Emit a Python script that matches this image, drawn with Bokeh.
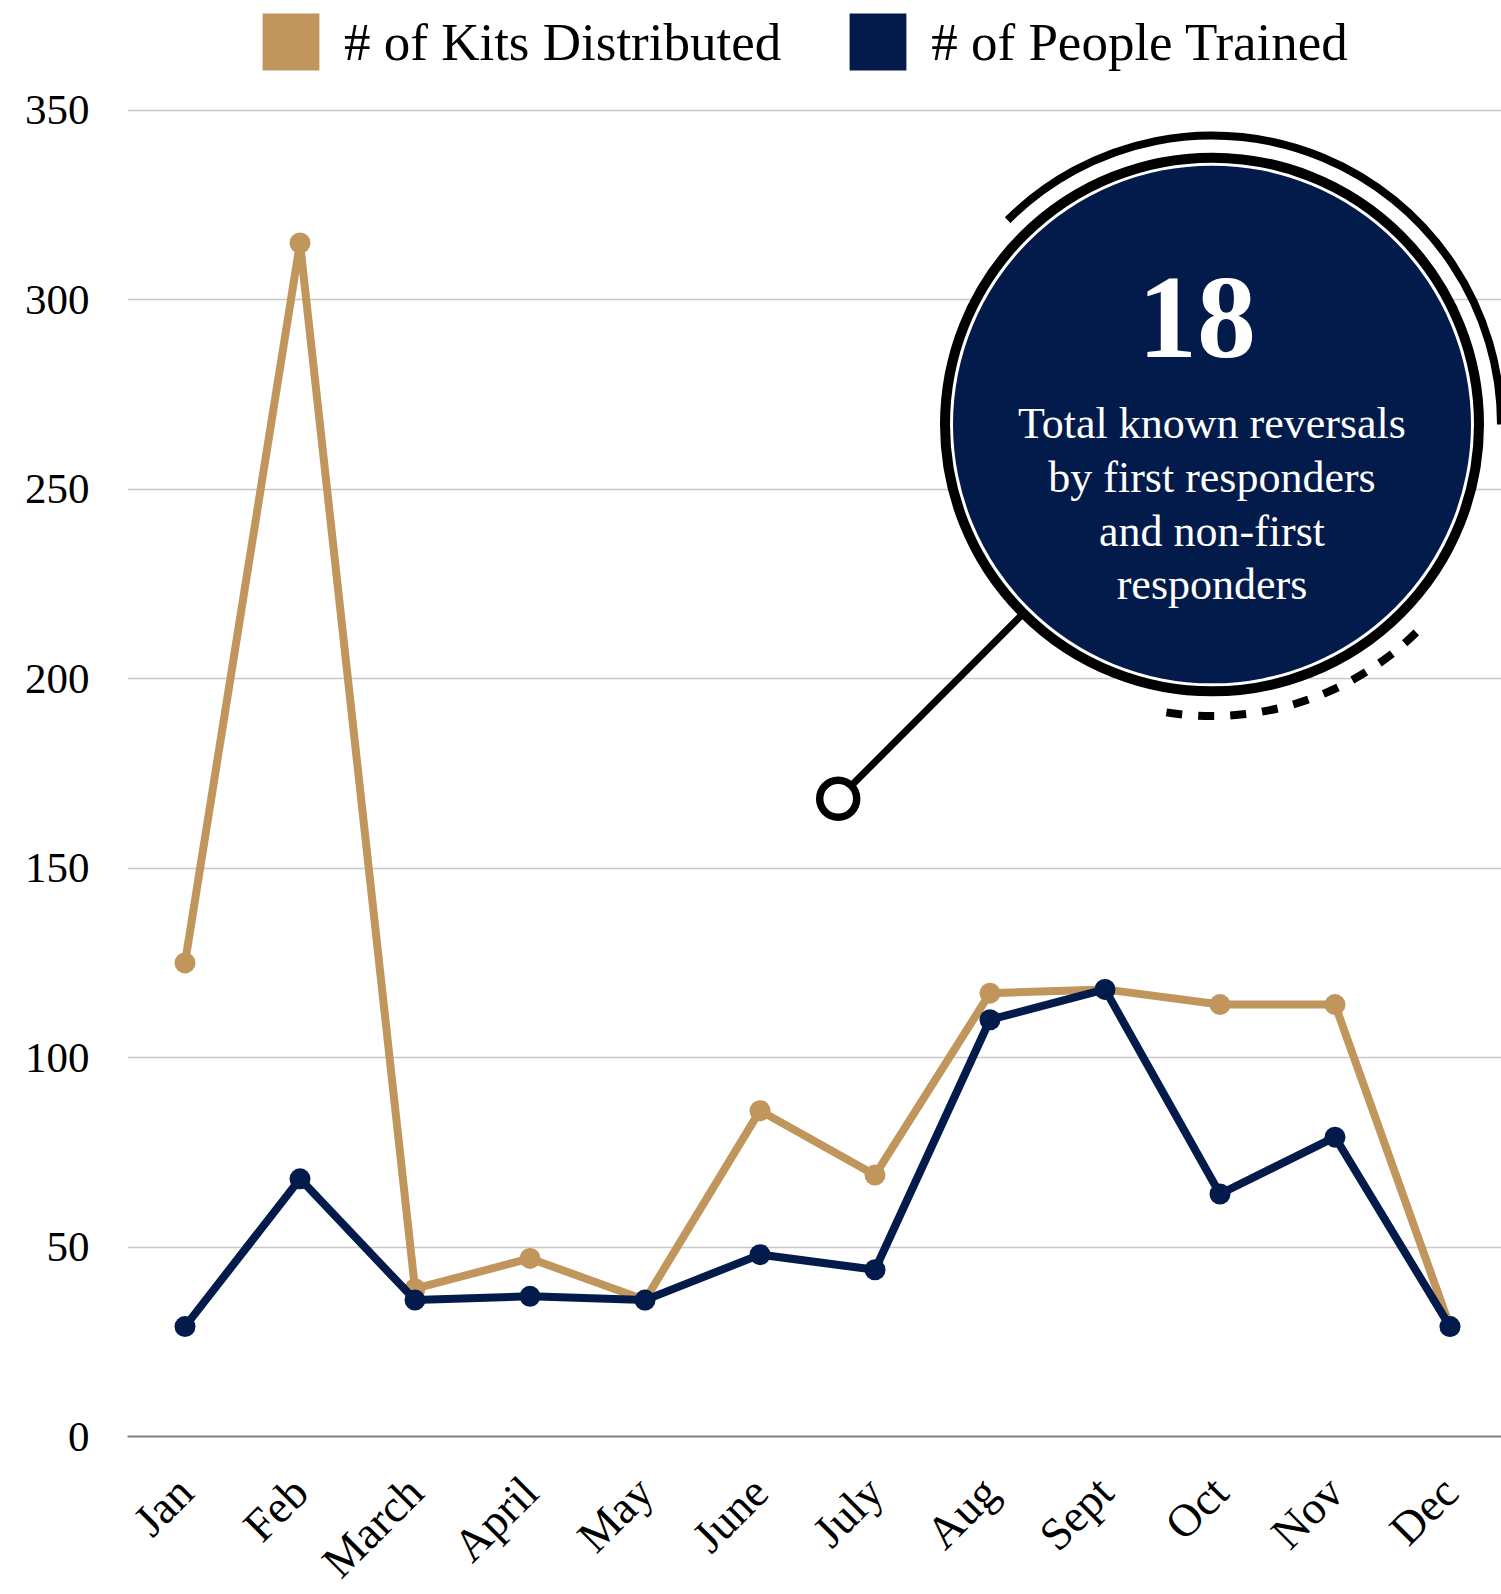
import math
from bokeh.plotting import figure
from bokeh.models import FixedTicker, Legend, LegendItem
from bokeh.core.properties import value
from bokeh.embed import file_html
from bokeh.resources import INLINE

# ---------------- data ----------------
months = ["Jan", "Feb", "March", "April", "May", "June", "July",
          "Aug", "Sept", "Oct", "Nov", "Dec"]
kits_distributed = [125, 315, 39, 47, 36, 86, 69, 117, 118, 114, 114, 29]
people_trained = [29, 68, 36, 37, 36, 48, 44, 110, 118, 64, 79, 29]
y_ticks = [0, 50, 100, 150, 200, 250, 300, 350]
series_names = ["# of Kits Distributed", "# of People Trained"]
callout_number = "18"
callout_lines = ["Total known reversals", "by first responders",
                 "and non-first", "responders"]

GOLD = "#C0965C"
NAVY = "#021B4A"
FONT = "Liberation Serif"

# ---------------- layout ----------------
FRAME_LEFT, FRAME_W, FRAME_H = 127, 1374, 1436
PX_PER_X = 115.0
PX_PER_Y = 3.789
X_END = FRAME_W / PX_PER_X
Y_END = FRAME_H / PX_PER_Y


def sx(px):
    return (px - FRAME_LEFT) / PX_PER_X


def sy(py):
    return (FRAME_H - py) / PX_PER_Y


xs = [i + 0.5 for i in range(len(months))]

p = figure(frame_width=FRAME_W, frame_height=FRAME_H,
           x_range=(0, X_END), y_range=(0, Y_END),
           output_backend="svg", toolbar_location=None,
           min_border_left=FRAME_LEFT, min_border_right=0,
           min_border_top=0, min_border_bottom=158)
p.outline_line_color = None
p.background_fill_color = "white"
p.border_fill_color = "white"

# axes
p.xaxis.ticker = FixedTicker(ticks=xs)
p.xaxis.major_label_overrides = {x: m for x, m in zip(xs, months)}
p.xaxis.major_label_orientation = math.pi / 4
p.xaxis.major_label_text_font = FONT
p.xaxis.major_label_text_font_size = "46px"
p.xaxis.major_label_text_color = "#000000"
p.xaxis.major_label_standoff = 42
p.xaxis.major_tick_line_color = None
p.xaxis.minor_tick_line_color = None
p.xaxis.axis_line_color = "#7f7f7f"
p.xaxis.axis_line_width = 2

p.yaxis.ticker = FixedTicker(ticks=y_ticks)
p.yaxis.major_label_text_font = FONT
p.yaxis.major_label_text_font_size = "43px"
p.yaxis.major_label_text_color = "#000000"
p.yaxis.major_label_standoff = 32
p.yaxis.major_tick_line_color = None
p.yaxis.minor_tick_line_color = None
p.yaxis.axis_line_color = None

p.xgrid.grid_line_color = None
p.ygrid.grid_line_color = "#c8c8c8"
p.ygrid.grid_line_width = 1.5

# data lines
p.line(xs, kits_distributed, line_color=GOLD, line_width=8, line_join="round")
p.scatter(xs, kits_distributed, size=21, fill_color=GOLD, line_color=None)
p.line(xs, people_trained, line_color=NAVY, line_width=8, line_join="round")
p.scatter(xs, people_trained, size=21, fill_color=NAVY, line_color=None)

# ---------------- callout ----------------
CX, CY = 1211.5, 424.0
cx, cy = sx(CX), sy(CY)
PIN_X, PIN_Y = 837.7, 798.3

# pointer line (to ring)
ang = math.atan2(PIN_Y - CY, PIN_X - CX)
end_x, end_y = CX + 262 * math.cos(ang), CY + 262 * math.sin(ang)
p.line([sx(PIN_X), sx(end_x)], [sy(PIN_Y), sy(end_y)],
       line_color="black", line_width=7)
p.scatter([sx(PIN_X)], [sy(PIN_Y)], size=37, fill_color="white",
          line_color="black", line_width=7.5)

# outer solid arc and dashed arc
p.arc(x=[cx], y=[cy], radius=289, radius_units="screen",
      start_angle=0, end_angle=math.radians(135),
      line_color="black", line_width=8)
p.arc(x=[cx], y=[cy], radius=291.5, radius_units="screen",
      start_angle=math.radians(-99), end_angle=math.radians(-44.5),
      line_color="black", line_width=8, line_dash="16 16")

# ring + navy disk
p.scatter([cx], [cy], size=2 * 267, fill_color="white",
          line_color="black", line_width=10)
p.scatter([cx], [cy], size=2 * 259, fill_color=NAVY, line_color=None)

p.text([sx(CX - 15)], [sy(317)], text=[callout_number], text_color="white",
       text_font=value(FONT), text_font_style="bold",
       text_font_size="118px", text_align="center", text_baseline="middle")
line_py = [423, 477, 530.5, 584]
p.text([cx] * len(callout_lines), [sy(v) for v in line_py], text=callout_lines,
       text_color="white", text_font=value(FONT), text_font_size="44px",
       text_align="center", text_baseline="middle")

# ---------------- legend ----------------
nan = float("nan")
r_gold = p.quad(left=[nan], right=[nan], top=[nan], bottom=[nan],
                fill_color=GOLD, line_color=None)
r_navy = p.quad(left=[nan], right=[nan], top=[nan], bottom=[nan],
                fill_color=NAVY, line_color=None)
legend = Legend(items=[LegendItem(label=series_names[0], renderers=[r_gold]),
                       LegendItem(label=series_names[1], renderers=[r_navy])],
                location=(128, 1359), orientation="horizontal",
                glyph_width=71, glyph_height=71, padding=6, margin=0,
                spacing=61, label_standoff=18,
                label_text_font=FONT, label_text_font_size="53px",
                label_text_color="#000000",
                background_fill_alpha=0, border_line_color=None)
p.add_layout(legend)

open("out.html", "w").write(file_html(p, INLINE))
